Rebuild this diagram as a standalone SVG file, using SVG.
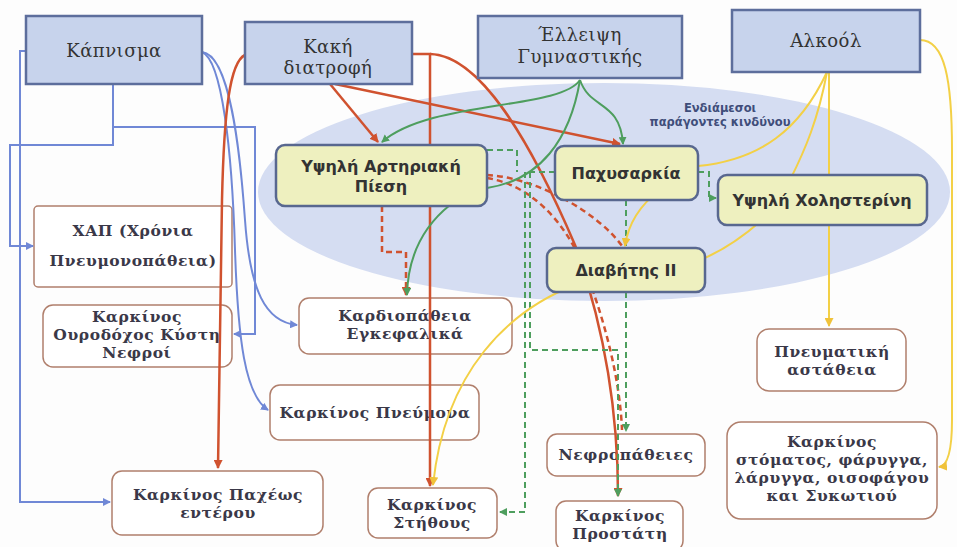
<svg xmlns="http://www.w3.org/2000/svg" width="957" height="547" viewBox="0 0 957 547">
<style>
.top{fill:#c7d3ec;stroke:#5d6e9c;stroke-width:2.5}
.mid{fill:#eef0bf;stroke:#58678f;stroke-width:2.5}
.bot{fill:#ffffff;stroke:#b07f6c;stroke-width:1.5}
.tt{font-family:"DejaVu Serif","Liberation Serif",serif;font-size:18px;fill:#333;text-anchor:middle;letter-spacing:0.5px}
.mt{font-family:"DejaVu Sans","Liberation Sans",sans-serif;font-size:16px;font-weight:bold;fill:#333;text-anchor:middle}
.bt{font-family:"DejaVu Serif","Liberation Serif",serif;font-size:15.5px;font-weight:bold;fill:#3a3848;text-anchor:middle;letter-spacing:0.6px}
.lab{font-family:"DejaVu Sans","Liberation Sans",sans-serif;font-size:11.5px;font-weight:bold;fill:#3f4d7a;text-anchor:middle}
.b{fill:none;stroke:#7088d6;stroke-width:2}
.r{fill:none;stroke:#d0522f;stroke-width:2.5}
.g{fill:none;stroke:#4e9e5e;stroke-width:2}
.y{fill:none;stroke:#f3d046;stroke-width:2}
.d{stroke-dasharray:6 4}
</style>
<defs>
<marker id="aB" markerWidth="8" markerHeight="8" refX="7" refY="4" orient="auto" markerUnits="userSpaceOnUse"><path d="M0,0 L8,4 L0,8 z" fill="#7088d6"/></marker>
<marker id="aR" markerWidth="9" markerHeight="9" refX="8" refY="4.5" orient="auto" markerUnits="userSpaceOnUse"><path d="M0,0 L9,4.5 L0,9 z" fill="#d0522f"/></marker>
<marker id="aG" markerWidth="8" markerHeight="8" refX="7" refY="4" orient="auto" markerUnits="userSpaceOnUse"><path d="M0,0 L8,4 L0,8 z" fill="#4e9e5e"/></marker>
<marker id="aY" markerWidth="9" markerHeight="9" refX="8" refY="4.5" orient="auto" markerUnits="userSpaceOnUse"><path d="M0,0 L9,4.5 L0,9 z" fill="#f0c23a"/></marker>
</defs>
<rect width="957" height="547" fill="#fdfdfd"/>
<ellipse cx="604" cy="192" rx="346" ry="109" fill="#d5ddf2"/>

<g id="n-xap"><rect class="bot" x="34" y="206" width="198" height="81" rx="4"/><text class="bt" x="133" y="236">ΧΑΠ (Χρόνια</text><text class="bt" x="133" y="266">Πνευμονοπάθεια)</text></g>
<g id="n-kysti"><rect class="bot" x="43" y="305" width="189" height="62" rx="10"/><text class="bt" x="137" y="322">Καρκίνος</text><text class="bt" x="137" y="340">Ουροδόχος Κύστη</text><text class="bt" x="137" y="358">Νεφροί</text></g>
<g id="n-kardio"><rect class="bot" x="299" y="298" width="213" height="56" rx="10"/><text class="bt" x="405" y="321">Καρδιοπάθεια</text><text class="bt" x="405" y="339">Εγκεφαλικά</text></g>
<g id="n-pneumona"><rect class="bot" x="270" y="385" width="209" height="55" rx="10"/><text class="bt" x="375" y="418">Καρκίνος Πνεύμονα</text></g>
<g id="n-entero"><rect class="bot" x="112" y="471" width="211" height="64" rx="10"/><text class="bt" x="218" y="500">Καρκίνος Παχέως</text><text class="bt" x="218" y="518">εντέρου</text></g>
<g id="n-stithos"><rect class="bot" x="368" y="488" width="129" height="50" rx="10"/><text class="bt" x="432" y="510">Καρκίνος</text><text class="bt" x="432" y="528">Στήθους</text></g>
<g id="n-nefro"><rect class="bot" x="547" y="434" width="158" height="42" rx="10"/><text class="bt" x="626" y="460">Νεφροπάθειες</text></g>
<g id="n-prostati"><rect class="bot" x="556" y="501" width="127" height="50" rx="10"/><text class="bt" x="620" y="521">Καρκίνος</text><text class="bt" x="620" y="539">Προστάτη</text></g>
<g id="n-pneumatiki"><rect class="bot" x="757" y="329" width="149" height="62" rx="12"/><text class="bt" x="832" y="357">Πνευματική</text><text class="bt" x="832" y="375">αστάθεια</text></g>
<g id="n-stoma"><rect class="bot" x="727" y="422" width="210" height="97" rx="14"/><text class="bt" x="832" y="447">Καρκίνος</text><text class="bt" x="832" y="465">στόματος, φάρυγγα,</text><text class="bt" x="832" y="483">λάρυγγα, οισοφάγου</text><text class="bt" x="832" y="501">και Συκωτιού</text></g>

<g id="connectors">
<path class="b" d="M26,51 H20 V502 H110" marker-end="url(#aB)"/>
<path class="b" d="M113,84 V145 H10 V246 H33" marker-end="url(#aB)"/>
<path class="b" d="M113,127 H255 V334 H234" marker-end="url(#aB)"/>
<path class="b" d="M202,52 C230,55 240,150 245,220 C250,290 265,322 297,325" marker-end="url(#aB)"/>
<path class="b" d="M202,52 C222,60 232,150 235,250 C238,340 245,395 268,410" marker-end="url(#aB)"/>

<path class="r" d="M245,55 C230,62 224,110 222,200 L218,468" marker-end="url(#aR)"/>
<path class="r" d="M330,84 L378,142" marker-end="url(#aR)"/>
<path class="r" d="M335,84 L620,144" marker-end="url(#aR)"/>
<path class="r" d="M412,54 H430 V486" marker-end="url(#aR)"/>
<path class="r" d="M430,54 C480,55 530,140 575,245 C600,315 618,400 618,496" marker-end="url(#aR)"/>
<path class="r d" d="M382,206 V252 H406 V295" marker-end="url(#aR)"/>
<path class="r d" d="M487,175 C540,178 600,215 622,246"/>
<path class="r d" d="M487,178 C530,185 565,220 585,270 C605,320 620,380 622,430"/>

<path class="g" d="M580,80 C560,110 430,100 382,142" marker-end="url(#aG)"/>
<path class="g" d="M580,80 C590,110 620,100 623,144" marker-end="url(#aG)"/>
<path class="g" d="M580,80 C570,140 540,180 487,188 L450,205 C425,225 408,255 407,295" marker-end="url(#aG)"/>
<path class="g d" d="M487,150 H517 V172"/>
<path class="g d" d="M555,172 H525 V512 H500" marker-end="url(#aG)"/>
<path class="g d" d="M530,172 V350 H618 V496" marker-end="url(#aG)"/>
<path class="g d" d="M626,200 V246"/>
<path class="g d" d="M626,292 V431" marker-end="url(#aG)"/>
<path class="g d" d="M698,172 H709 V198 H716" marker-end="url(#aG)"/>

<path class="y" d="M827,72 C800,130 760,160 698,166 L660,190 C640,205 628,225 625,246" marker-end="url(#aY)"/>
<path class="y" d="M827,72 C818,120 805,150 790,180 L762,220 C745,235 725,250 700,260 L575,285 C510,310 445,370 433,485" marker-end="url(#aY)"/>
<path class="y" d="M829,72 V326" marker-end="url(#aY)"/>
<path class="y" d="M920,40 C945,40 952,80 952,150 L952,420 C952,450 948,466 939,467" marker-end="url(#aY)"/>
</g>

<g id="n-kapnisma"><rect class="top" x="26" y="16" width="176" height="68"/><text class="tt" x="114" y="57">Κάπνισμα</text></g>
<g id="n-diatrofi"><rect class="top" x="245" y="22" width="167" height="62"/><text class="tt" x="328" y="53">Κακή</text><text class="tt" x="328" y="74">διατροφή</text></g>
<g id="n-gymnastiki"><rect class="top" x="478" y="16" width="204" height="62"/><text class="tt" x="580" y="41">Έλλειψη</text><text class="tt" x="580" y="63">Γυμναστικής</text></g>
<g id="n-alkool"><rect class="top" x="732" y="10" width="188" height="62"/><text class="tt" x="826" y="47">Αλκοόλ</text></g>

<g id="n-piesi"><rect class="mid" x="276" y="145" width="211" height="61" rx="9"/><text class="mt" x="381" y="172">Υψηλή Αρτηριακή</text><text class="mt" x="381" y="192">Πίεση</text></g>
<g id="n-paxysarkia"><rect class="mid" x="555" y="146" width="143" height="54" rx="9"/><text class="mt" x="626" y="179">Παχυσαρκία</text></g>
<g id="n-xolisterini"><rect class="mid" x="718" y="175" width="209" height="50" rx="9"/><text class="mt" x="822" y="206">Υψηλή Χοληστερίνη</text></g>
<g id="n-diavitis"><rect class="mid" x="547" y="248" width="158" height="44" rx="9"/><text class="mt" x="626" y="276">Διαβήτης ΙΙ</text></g>

<g id="label"><text class="lab" x="720" y="112">Ενδιάμεσοι</text><text class="lab" x="720" y="126">παράγοντες κινδύνου</text></g>
</svg>
